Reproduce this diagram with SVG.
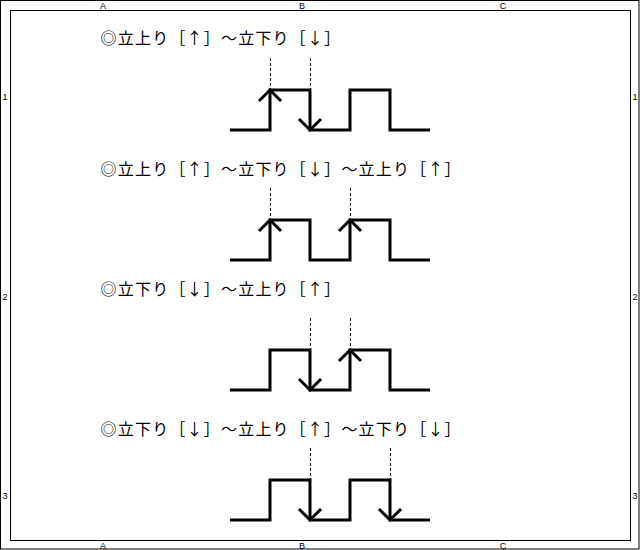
<svg xmlns="http://www.w3.org/2000/svg" width="640" height="550" viewBox="0 0 640 550">
<style>
.frame{fill:none;stroke:#000;stroke-width:1}
.lbl{font-family:"Liberation Sans","DejaVu Sans",sans-serif;font-size:9px;fill:#000;text-anchor:middle}
.ttl{font-family:"Noto Sans CJK JP","Noto Sans CJK SC",sans-serif;font-size:16px;fill:#000;text-anchor:middle}
.wave{fill:none;stroke:#000;stroke-width:3;stroke-linejoin:miter;stroke-linecap:butt}
.arr{fill:none;stroke:#000;stroke-width:3;stroke-linejoin:miter;stroke-linecap:butt}
.guide{stroke:#000;stroke-width:1;stroke-dasharray:3 2;fill:none}
</style>
<rect width="640" height="550" fill="#fff"/>
<g id="frame">
<rect class="frame" x="0.5" y="0.5" width="638.5" height="548.5"/>
<rect class="frame" x="10.5" y="10.5" width="620" height="530"/>
<text class="lbl" x="103" y="9">A</text>
<text class="lbl" x="302" y="9">B</text>
<text class="lbl" x="503" y="9">C</text>
<text class="lbl" x="103" y="549">A</text>
<text class="lbl" x="302" y="549">B</text>
<text class="lbl" x="503" y="549">C</text>
<text class="lbl" x="5" y="100">1</text>
<text class="lbl" x="5" y="300">2</text>
<text class="lbl" x="5" y="499">3</text>
<text class="lbl" x="635" y="100">1</text>
<text class="lbl" x="635" y="300">2</text>
<text class="lbl" x="635" y="499">3</text>
</g>
<g id="title1"><text class="ttl" x="108.6 125.8 143 160.2 177.4 194.6 211.8 229 246.2 263.4 280.6 297.8 315 332.2" y="44">◎立上り［↑］～立下り［↓］</text></g>
<g id="title2"><text class="ttl" x="108.6 125.8 143 160.2 177.4 194.6 211.8 229 246.2 263.4 280.6 297.8 315 332.2 349.4 366.6 383.8 401 418.2 435.4 452.6" y="175">◎立上り［↑］～立下り［↓］～立上り［↑］</text></g>
<g id="title3"><text class="ttl" x="108.6 125.8 143 160.2 177.4 194.6 211.8 229 246.2 263.4 280.6 297.8 315 332.2" y="295">◎立下り［↓］～立上り［↑］</text></g>
<g id="title4"><text class="ttl" x="108.6 125.8 143 160.2 177.4 194.6 211.8 229 246.2 263.4 280.6 297.8 315 332.2 349.4 366.6 383.8 401 418.2 435.4 452.6" y="435">◎立下り［↓］～立上り［↑］～立下り［↓］</text></g>
<g id="connectors">
<line class="guide" x1="270.5" y1="58" x2="270.5" y2="90"/>
<line class="guide" x1="310.5" y1="58" x2="310.5" y2="90"/>
<line class="guide" x1="270.5" y1="188" x2="270.5" y2="220"/>
<line class="guide" x1="350.5" y1="188" x2="350.5" y2="220"/>
<line class="guide" x1="310.5" y1="318" x2="310.5" y2="350"/>
<line class="guide" x1="350.5" y1="318" x2="350.5" y2="350"/>
<line class="guide" x1="310.5" y1="448" x2="310.5" y2="480"/>
<line class="guide" x1="390.5" y1="448" x2="390.5" y2="480"/>
</g>
<g id="wave1">
<path class="wave" d="M230,130H270V90H310V130H350V90H390V130H430"/>
<path class="arr" d="M259,101L270,90L281,101"/>
<path class="arr" d="M299,119L310,130L321,119"/>
</g>
<g id="wave2">
<path class="wave" d="M230,260H270V220H310V260H350V220H390V260H430"/>
<path class="arr" d="M259,231L270,220L281,231"/>
<path class="arr" d="M339,231L350,220L361,231"/>
</g>
<g id="wave3">
<path class="wave" d="M230,390H270V350H310V390H350V350H390V390H430"/>
<path class="arr" d="M299,379L310,390L321,379"/>
<path class="arr" d="M339,361L350,350L361,361"/>
</g>
<g id="wave4">
<path class="wave" d="M230,520H270V480H310V520H350V480H390V520H430"/>
<path class="arr" d="M299,509L310,520L321,509"/>
<path class="arr" d="M379,509L390,520L401,509"/>
</g>
</svg>
